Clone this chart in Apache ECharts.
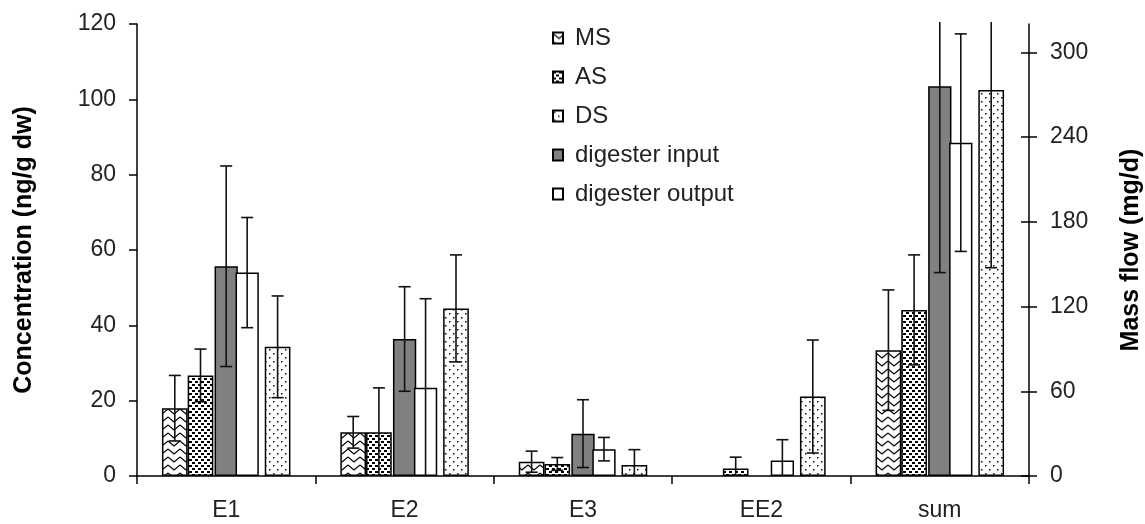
<!DOCTYPE html>
<html>
<head>
<meta charset="utf-8">
<script src="https://cdn.jsdelivr.net/npm/echarts@6/dist/echarts.min.js"></script>
<style>
html,body{margin:0;padding:0;background:#fff;}
#chart{width:1145px;height:524px;}
</style>
</head>
<body>
<div id="chart"></div>
<script>
// ---- data ----
var categories = ['E1', 'E2', 'E3', 'EE2', 'sum'];
// concentrations (ng/g dw), left axis
var msValues = [18, 11.6, 3.8, null, 33.4];
var msErr    = [8.7, 4.2, 2.8, null, 16];
var asValues = [26.7, 11.6, 3.2, 2.0, 44.1];
var asErr    = [7, 11.8, 1.7, 3, 14.6];
var dsValues = [34.3, 44.5, 2.9, 21.1, 102.5];
var dsErr    = [13.5, 14.2, 4.1, 15, 47.2];
// mass flow (mg/d), right axis
var inputValues  = [148.5, 97, 30, null, 276];
var inputErr     = [71, 37, 24, null, 132];
var outputValues = [144, 62.5, 19, 11, 236];
var outputErr    = [39, 63, 8.3, 14.7, 77];
var leftTicks  = [0, 20, 40, 60, 80, 100, 120];
var rightTicks = [0, 60, 120, 180, 240, 300];

// ---- patterns ----
function makePattern(w, h, draw) {
  var c = document.createElement('canvas');
  c.width = w; c.height = h;
  var ctx = c.getContext('2d');
  ctx.fillStyle = '#fff';
  ctx.fillRect(0, 0, w, h);
  draw(ctx);
  return { image: c, repeat: 'repeat' };
}
var zigzag = makePattern(12, 8, function (ctx) {
  ctx.strokeStyle = '#000'; ctx.lineWidth = 1.1;
  ctx.beginPath(); ctx.moveTo(0, 1); ctx.lineTo(6, 6); ctx.lineTo(12, 1); ctx.stroke();
});
var denseDots = makePattern(6, 6, function (ctx) {
  ctx.fillStyle = '#000';
  ctx.fillRect(0, 0, 3, 2); ctx.fillRect(3, 3, 3, 2);
});
var sparseDots = makePattern(8, 8, function (ctx) {
  ctx.fillStyle = '#111';
  ctx.fillRect(1, 1, 1.5, 1.5); ctx.fillRect(5, 5, 1.5, 1.5);
});

var PRI_W = 25.7;   // primary bar width
var SEC_W = 23.3;   // secondary bar width
var SEC_GAP = -0.1; // secondary bar gap
var FONT = 'Liberation Sans, Arial, sans-serif';
var TXT = '#222';

function errData(vals, errs) {
  var out = [];
  for (var i = 0; i < vals.length; i++) {
    if (vals[i] != null && errs[i] != null) out.push([i, vals[i], errs[i]]);
  }
  return out;
}
function errSeries(name, vals, errs, xi, yi, offset) {
  return {
    type: 'custom', name: name + ' err', xAxisIndex: xi, yAxisIndex: yi, z: 5, silent: true,
    data: errData(vals, errs),
    renderItem: function (params, api) {
      var idx = api.value(0), v = api.value(1), e = api.value(2);
      var cs = params.coordSys;
      var x = api.coord([idx, v])[0] + offset;
      var yt = Math.max(api.coord([idx, v + e])[1], cs.y - 2);
      var yb = Math.min(api.coord([idx, v - e])[1], cs.y + cs.height);
      var st = { stroke: '#111', lineWidth: 1.6 };
      var kids = [{ type: 'line', shape: { x1: x, y1: yt, x2: x, y2: yb }, style: st }];
      if (yt > cs.y) kids.push({ type: 'line', shape: { x1: x - 6, y1: yt, x2: x + 6, y2: yt }, style: st });
      if (yb < cs.y + cs.height - 1) kids.push({ type: 'line', shape: { x1: x - 6, y1: yb, x2: x + 6, y2: yb }, style: st });
      return { type: 'group', children: kids };
    }
  };
}
function barSeries(name, data, color, xi, yi, w, gap) {
  return {
    type: 'bar', name: name, data: data, xAxisIndex: xi, yAxisIndex: yi,
    barWidth: w, barGap: gap,
    itemStyle: { color: color, borderColor: '#000', borderWidth: 1.5 }
  };
}
var blank = categories.map(function () { return '-'; });

var chart = echarts.init(document.getElementById('chart'), null, { renderer: 'canvas' });
chart.setOption({
  animation: false,
  backgroundColor: '#fff',
  grid: { left: 137, right: 116, top: 24, bottom: 48, containLabel: false, outerBoundsMode: 'none' },
  legend: {
    orient: 'vertical', left: 547, top: 21, selectedMode: false,
    icon: 'rect', itemWidth: 10, itemHeight: 11, itemGap: 15,
    data: ['MS', 'AS', 'DS', 'digester input', 'digester output'],
    textStyle: { fontFamily: FONT, fontSize: 24, color: TXT, padding: [0, 0, 0, 7] }
  },
  xAxis: [{
    type: 'category', data: categories,
    axisLine: { lineStyle: { color: '#000', width: 1.5 } },
    axisTick: { show: true, length: 8, lineStyle: { color: '#000', width: 1.5 } },
    axisLabel: { fontFamily: FONT, fontSize: 23, color: TXT, margin: 23 }
  }, {
    type: 'category', data: categories, show: false
  }],
  yAxis: [{
    type: 'value', min: 0, max: 120, interval: 20, position: 'left',
    name: 'Concentration (ng/g dw)', nameLocation: 'middle', nameGap: 100, nameRotate: 90,
    nameTextStyle: { fontFamily: FONT, fontSize: 25, fontWeight: 'bold', color: '#000' },
    axisLine: { show: true, lineStyle: { color: '#000', width: 1.5 } },
    axisTick: { show: true, length: 8, lineStyle: { color: '#000', width: 1.5 } },
    axisLabel: { fontFamily: FONT, fontSize: 23, color: TXT, margin: 21,
                 customValues: leftTicks },
    splitLine: { show: false }
  }, {
    type: 'value', min: 0, max: 320, position: 'right',
    name: 'Mass flow (mg/d)', nameLocation: 'middle', nameGap: 90, nameRotate: 90,
    nameTextStyle: { fontFamily: FONT, fontSize: 25, fontWeight: 'bold', color: '#000' },
    axisLine: { show: true, lineStyle: { color: '#000', width: 1.5 } },
    axisTick: { show: true, length: 8, customValues: rightTicks, lineStyle: { color: '#000', width: 1.5 } },
    axisLabel: { fontFamily: FONT, fontSize: 23, color: TXT, margin: 21, customValues: rightTicks },
    splitLine: { show: false }
  }, {
    type: 'value', min: 0, max: 320, position: 'right',
    axisLine: { show: false },
    axisTick: { show: true, inside: true, length: 8, customValues: rightTicks, lineStyle: { color: '#000', width: 1.5 } },
    axisLabel: { show: false },
    splitLine: { show: false }
  }],
  series: [
    barSeries('MS', msValues, zigzag, 0, 0, PRI_W, '0%'),
    barSeries('AS', asValues, denseDots, 0, 0, PRI_W, '0%'),
    { type: 'bar', name: '_gap1', data: blank, xAxisIndex: 0, yAxisIndex: 0, barWidth: PRI_W, barGap: '0%', silent: true },
    { type: 'bar', name: '_gap2', data: blank, xAxisIndex: 0, yAxisIndex: 0, barWidth: PRI_W, barGap: '0%', silent: true },
    barSeries('DS', dsValues, sparseDots, 0, 0, PRI_W, '0%'),
    { type: 'bar', name: '_gap3', data: blank, xAxisIndex: 1, yAxisIndex: 1, barWidth: SEC_W, barGap: (SEC_GAP * 100) + '%', silent: true },
    barSeries('digester input', inputValues, '#808080', 1, 1, SEC_W, (SEC_GAP * 100) + '%'),
    barSeries('digester output', outputValues, '#ffffff', 1, 1, SEC_W, (SEC_GAP * 100) + '%'),
    errSeries('MS', msValues, msErr, 0, 0, -2 * PRI_W),
    errSeries('AS', asValues, asErr, 0, 0, -1 * PRI_W),
    errSeries('DS', dsValues, dsErr, 0, 0, 2 * PRI_W),
    errSeries('digester input', inputValues, inputErr, 1, 1, 0),
    errSeries('digester output', outputValues, outputErr, 1, 1, SEC_W * (1 + SEC_GAP))
  ]
});
</script>
</body>
</html>
